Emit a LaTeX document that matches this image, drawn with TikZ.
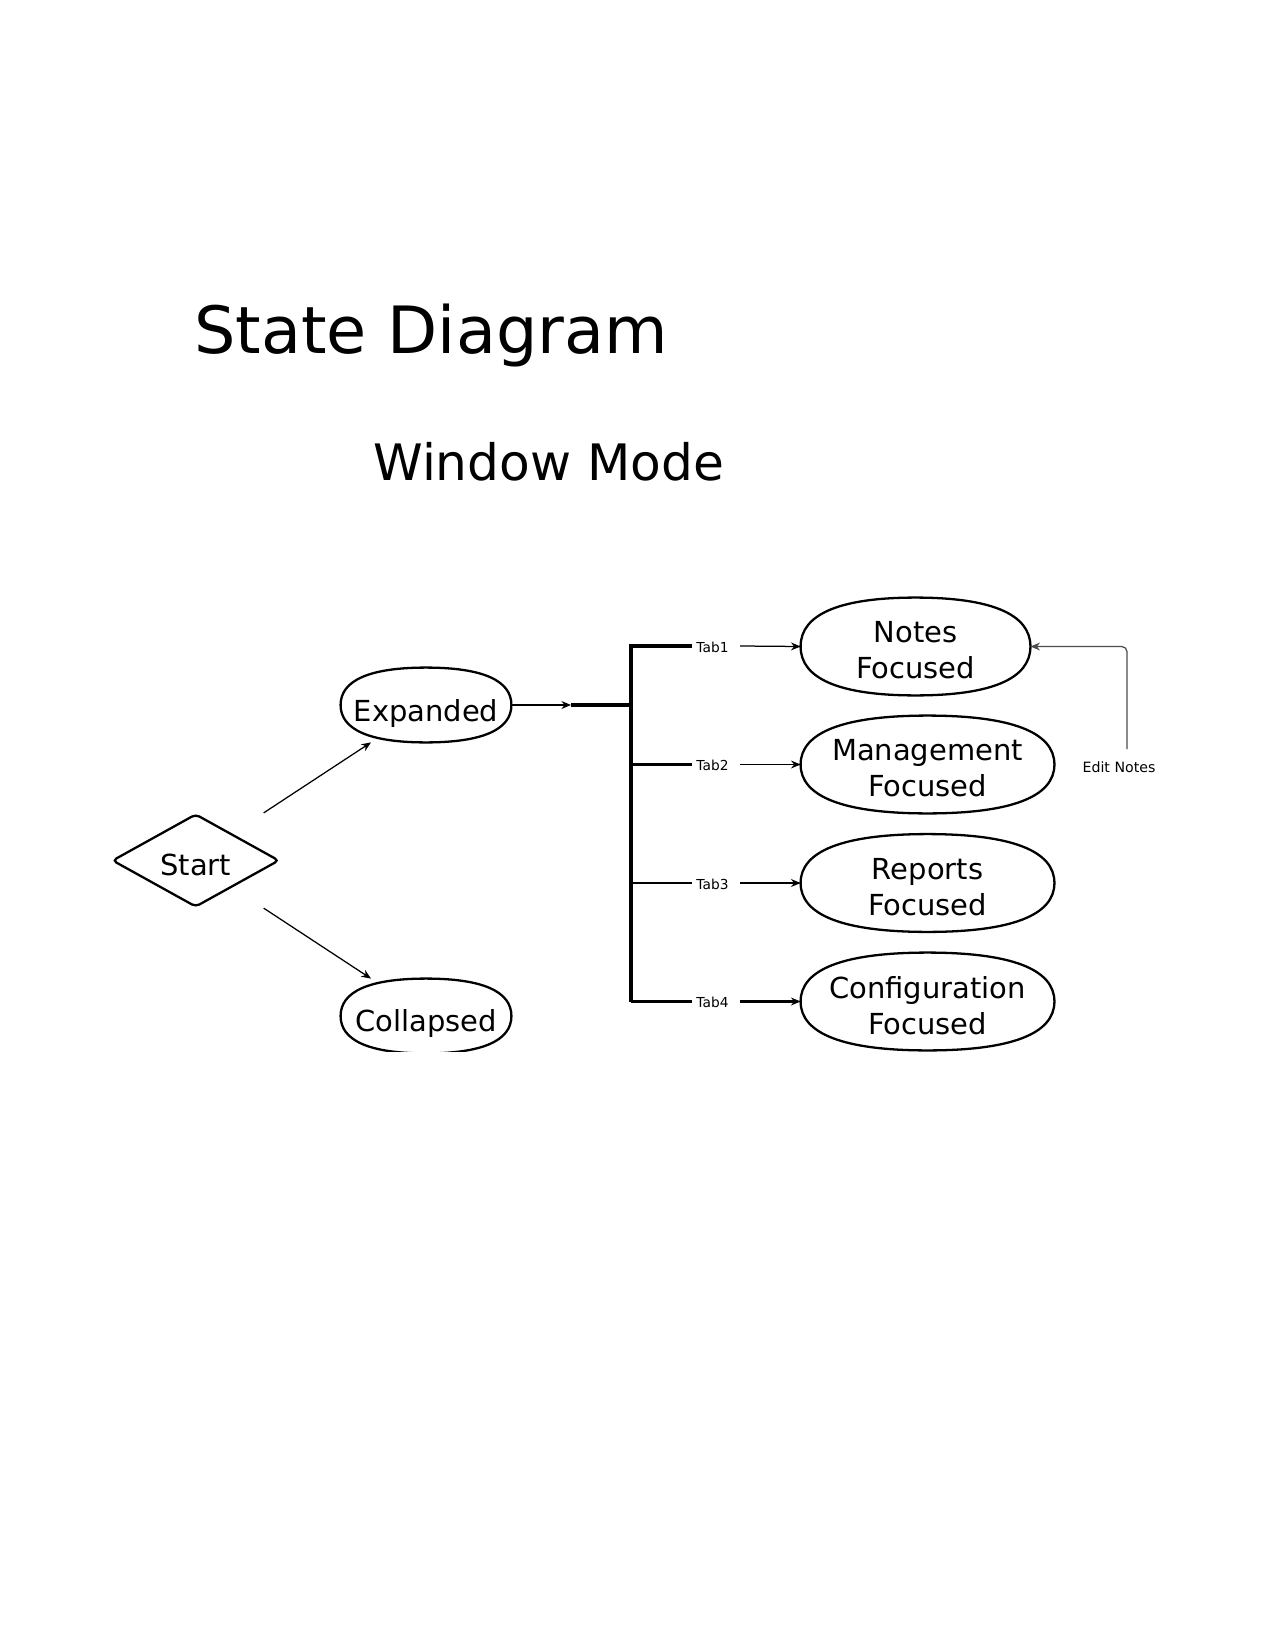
\documentclass[tikz,border=0pt]{standalone}
\usepackage{fontspec}
\setmainfont{DejaVu Sans}
\usetikzlibrary{shapes.geometric,arrows.meta,calc}
\newcommand\softoval[2][0.66]{%
  \draw[shapeline] (#2.west)
    .. controls ($(#2.west)!#1!(#2.north west)$) and ($(#2.north)!#1!(#2.north west)$) .. (#2.north)
    .. controls ($(#2.north)!#1!(#2.north east)$) and ($(#2.east)!#1!(#2.north east)$) .. (#2.east)
    .. controls ($(#2.east)!#1!(#2.south east)$) and ($(#2.south)!#1!(#2.south east)$) .. (#2.south)
    .. controls ($(#2.south)!#1!(#2.south west)$) and ($(#2.west)!#1!(#2.south west)$) .. (#2.west) -- cycle;}
\begin{document}
\begin{tikzpicture}[x=0.48pt,y=-0.48pt,
  every node/.style={inner sep=0pt},
  shapeline/.style={draw,line width=1.1pt},
  statebox/.style={rectangle,minimum width={#1*0.48pt},minimum height={97*0.48pt}},
  smallbox/.style={rectangle,minimum width={170*0.48pt},minimum height={74*0.48pt}},
  txt/.style={font=\fontsize{13.9pt}{17.4pt}\selectfont,align=center},
  arr/.style={-{Stealth[length=4.6pt,width=3.8pt]},line width=0.6pt},
  arrthick/.style={-{Stealth[length=4.6pt,width=3.8pt]},line width=1pt},
  bar/.style={line width=1.6pt},
  barthin/.style={line width=1pt},
  tablbl/.style={font=\fontsize{6.6pt}{7.9pt}\selectfont},
  notelbl/.style={font=\fontsize{6.8pt}{8pt}\selectfont}
]
\useasboundingbox (0,0) rectangle (1275,1650);

% titles
\node[anchor=base west,font=\fontsize{31.3pt}{37pt}\selectfont] (title) at (194,354) {State Diagram};
\node[anchor=base west,font=\fontsize{24.1pt}{29pt}\selectfont] (subtitle) at (373,481) {Window Mode};

% start
\node[shapeline,diamond,aspect=1.8,minimum width={167*0.48pt},minimum height={93*0.48pt},rounded corners=2pt] (start) at (195.7,860.5) {};
\node[txt,anchor=base] (starttxt) at (195.7,875) {Start};

% expanded / collapsed
\node[smallbox] (exp) at (426,705) {};
\softoval{exp}
\node[txt,anchor=base] (exptxt) at (426,721) {Expanded};
\node[smallbox] (col) at (426,1016) {};
\begin{scope}
  \clip (0,0) rectangle (1275,1051);
  \softoval{col}
\end{scope}
\node[txt,anchor=base] (coltxt) at (426,1031) {Collapsed};

\draw[arr] ($(start.north)+(68,0)$) -- ($(exp.south)+(-55,0)$);
\draw[arr] ($(start.south)+(68,0)$) -- ($(col.north)+(-55,0)$);

% focused states
\node[statebox=229] (notes) at (915.5,646.5) {};
\softoval{notes}
\node[txt] (notestxt) at (915.5,650.4) {Notes\\Focused};
\node[statebox=253] (mgmt) at (927.5,764.5) {};
\softoval{mgmt}
\node[txt] (mgmttxt) at (927.5,768.4) {Management\\Focused};
\node[statebox=253] (rep) at (927.5,883) {};
\softoval{rep}
\node[txt] (reptxt) at (927.5,886.9) {Reports\\Focused};
\node[statebox=253] (conf) at (927.5,1001.5) {};
\softoval{conf}
\node[txt] (conftxt) at (927.5,1005.4) {Configuration\\Focused};

% fork
\coordinate (jin) at (571,705);
\coordinate (junc) at (631,705);
\coordinate (bt) at (631,646);
\coordinate (bb) at (631,1001.5);
\coordinate (b2) at (631,764.5);
\coordinate (b3) at (631,883);
\coordinate (e1) at (692,646);
\coordinate (e2) at (692,764.5);
\coordinate (e3) at (692,883);
\coordinate (e4) at (692,1001.5);
\coordinate (a1) at (740,646);
\coordinate (a2) at (740,764.5);
\coordinate (a3) at (740,883);
\coordinate (a4) at (740,1001.5);

\draw[arr] (exp.east) -- (jin);
\draw[bar] (jin) -- (junc);
\draw[bar] (e1) -- (bt) -- (bb);
\draw[bar] (b2) -- (e2);
\draw[barthin] (b3) -- (e3);
\draw[barthin] (bb) -- (e4);

\node[tablbl,anchor=base] (t1) at (712.5,652) {Tab1};
\node[tablbl,anchor=base] (t2) at (712.5,770.5) {Tab2};
\node[tablbl,anchor=base] (t3) at (712.5,889) {Tab3};
\node[tablbl,anchor=base] (t4) at (712.5,1007.5) {Tab4};

\draw[arr] (a1) -- (notes.west);
\draw[arr] (a2) -- (mgmt.west);
\draw[arrthick] (a3) -- (rep.west);
\draw[arrthick] (a4) -- (conf.west);

% edit notes loop
\coordinate (en) at (1127,749);
\draw[arr,draw=black!70,rounded corners=2.5pt] (en) |- (notes.east);
\node[notelbl] (enl) at (1119,767) {Edit Notes};
\end{tikzpicture}
\end{document}
